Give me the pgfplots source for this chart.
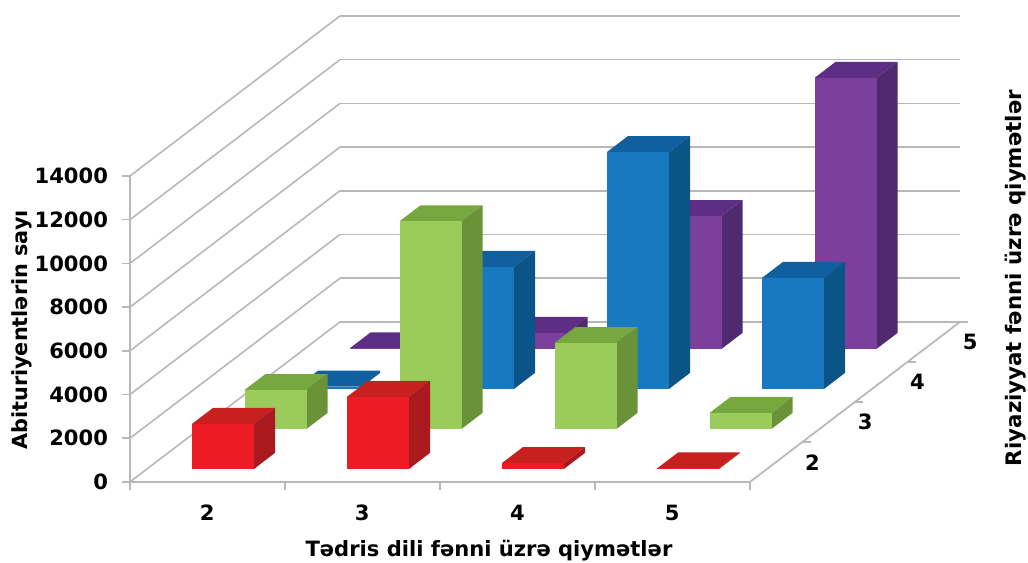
\documentclass[border=0pt]{standalone}
\usepackage{fontspec}
\setmainfont{DejaVu Sans}
\usepackage{pgfplots}
\pgfplotsset{compat=1.18}
\definecolor{axg}{HTML}{B8B8B8}
\definecolor{rF}{HTML}{ED1C24}\definecolor{rT}{HTML}{C8201F}\definecolor{rS}{HTML}{A81A1E}
\definecolor{gF}{HTML}{9BCB5B}\definecolor{gT}{HTML}{76A83F}\definecolor{gS}{HTML}{6A9339}
\definecolor{bF}{HTML}{1878C0}\definecolor{bT}{HTML}{10609F}\definecolor{bS}{HTML}{0A5488}
\definecolor{pF}{HTML}{7B3F9C}\definecolor{pT}{HTML}{5E2E85}\definecolor{pS}{HTML}{4F2A70}
% x0 x1 y0 y1 height colour-prefix
\newcommand{\threebar}[6]{%
  \addplot3[fill=#6T,draw=none,mark=none,forget plot] coordinates {(#1,#3,#5)(#2,#3,#5)(#2,#4,#5)(#1,#4,#5)} --cycle;
  \addplot3[fill=#6S,draw=none,mark=none,forget plot] coordinates {(#2,#3,0)(#2,#4,0)(#2,#4,#5)(#2,#3,#5)} --cycle;
  \addplot3[fill=#6F,draw=none,mark=none,forget plot] coordinates {(#1,#3,0)(#2,#3,0)(#2,#3,#5)(#1,#3,#5)} --cycle;
}
\begin{document}
\begin{tikzpicture}
\begin{axis}[
  x={(116.25pt,0pt)}, y={(39.375pt,30pt)}, z={(0pt,0.016393pt)},
  xmin=0,xmax=4,ymin=0,ymax=4,zmin=0,zmax=14000,
  clip=false,
  axis line style={draw=none},
  major tick length=0pt,
  zmajorgrids=true, xmajorgrids=false, ymajorgrids=false,
  grid style={axg,line width=1.2pt},
  xtick={0.5,1.5,2.5,3.5}, xticklabels={2,3,4,5},
  ytick={0.5,1.5,2.5,3.5}, yticklabels={2,3,4,5},
  ztick={0,2000,4000,6000,8000,10000,12000,14000},
  scaled z ticks=false,
  tick label style={font=\fontsize{15.8pt}{18pt}\selectfont\bfseries},
  xticklabel style={xshift=4.5pt,yshift=-14pt},
  yticklabel style={xshift=18pt,yshift=9pt},
  zticklabel style={anchor=east,xshift=-13pt,yshift=0pt},
  /pgf/number format/assume math mode=true,
  /pgf/number format/set thousands separator={},
]
% axis lines and ticks
\draw[axg,line width=1.3pt] (axis cs:0,0,14000)--(axis cs:0,0,0)--(axis cs:4,0,0)--(axis cs:4,4,0);
\pgfplotsinvokeforeach{0,2000,4000,6000,8000,10000,12000,14000}{\draw[axg,line width=1.2pt] (axis cs:0,0,#1)--++(-6pt,0);}
\pgfplotsinvokeforeach{0,1,2,3,4}{\draw[axg,line width=1.2pt] (axis cs:#1,0,0)--++(0,-6pt);}
\pgfplotsinvokeforeach{1,2,3,4}{\draw[axg,line width=1.2pt] (axis cs:4,#1,0)--++(6pt,0);}
% row 5 (purple)
\threebar{0.29}{0.69}{3.325}{3.725}{20}{p}
\threebar{1.29}{1.69}{3.325}{3.725}{730}{p}
\threebar{2.29}{2.69}{3.325}{3.725}{6080}{p}
\threebar{3.29}{3.69}{3.325}{3.725}{12400}{p}
% row 4 (blue)
\threebar{0.29}{0.69}{2.325}{2.725}{100}{b}
\threebar{1.29}{1.69}{2.325}{2.725}{5580}{b}
\threebar{2.29}{2.69}{2.325}{2.725}{10840}{b}
\threebar{3.29}{3.69}{2.325}{2.725}{5080}{b}
% row 3 (green)
\threebar{0.29}{0.69}{1.325}{1.725}{1780}{g}
\threebar{1.29}{1.69}{1.325}{1.725}{9500}{g}
\threebar{2.29}{2.69}{1.325}{1.725}{3930}{g}
\threebar{3.29}{3.69}{1.325}{1.725}{730}{g}
% row 2 (red)
\threebar{0.29}{0.69}{0.325}{0.725}{2060}{r}
\threebar{1.29}{1.69}{0.325}{0.725}{3300}{r}
\threebar{2.29}{2.69}{0.325}{0.725}{270}{r}
\threebar{3.29}{3.69}{0.325}{0.725}{20}{r}
% titles
\node[font=\fontsize{15.8pt}{18pt}\selectfont\bfseries] at (axis cs:2.316,0,-3157) {Tədris dili fənni üzrə qiymətlər};
\node[rotate=90,font=\fontsize{15.6pt}{18pt}\selectfont\bfseries] at (axis cs:-0.697,0,6954) {Abituriyentlərin sayı};
\node[rotate=90,font=\fontsize{16pt}{18pt}\selectfont\bfseries] at (axis cs:5.71,0,9333) {Riyaziyyat fənni üzrə qiymətlər};
\coordinate (BL) at (axis cs:-0.8387,0,-3706);
\coordinate (TR) at (axis cs:5.7935,0,22052);
\end{axis}
\pgfresetboundingbox
\path[use as bounding box] (BL) rectangle (TR);
\end{tikzpicture}
\end{document}
